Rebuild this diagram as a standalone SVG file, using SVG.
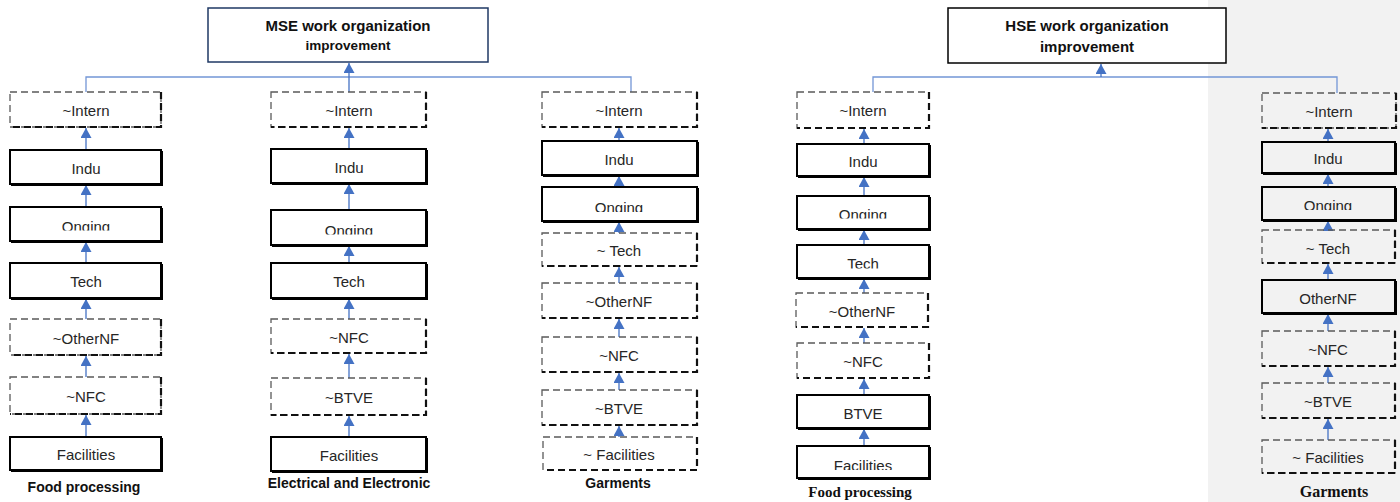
<svg xmlns="http://www.w3.org/2000/svg" width="1400" height="502" viewBox="0 0 1400 502">
<style>
.t{font-family:"Liberation Sans",Arial,sans-serif;font-size:15px;fill:#262626;text-anchor:middle}
.h{font-family:"Liberation Sans",Arial,sans-serif;font-weight:bold;font-size:15px;fill:#111;text-anchor:middle}
.lb{font-family:"Liberation Sans",Arial,sans-serif;font-weight:bold;font-size:14px;fill:#111;text-anchor:middle}
.ls{font-family:"Liberation Serif","Times New Roman",serif;font-weight:bold;font-size:16px;fill:#111;text-anchor:middle}
.s{fill:none;stroke:#000;stroke-width:2}
.sh{fill:none;stroke:#000;stroke-width:2}
.d{fill:none;stroke:#5a5a5a;stroke-width:1.3;stroke-dasharray:7 4}
.db{fill:none;stroke:#111;stroke-width:2.2;stroke-dasharray:7 4}
.a{fill:none;stroke:#4472C4;stroke-width:1.3;marker-end:url(#ah)}
.bus{fill:none;stroke:#7396d6;stroke-width:1.3}
</style>
<defs>
<marker id="ah" markerUnits="userSpaceOnUse" markerWidth="11" markerHeight="11" refX="10" refY="5.5" orient="auto" viewBox="0 0 10 11">
<path d="M0,0 L10,5.5 L0,11 z" fill="#4472C4"/>
</marker>
<clipPath id="c1"><rect x="0" y="0" width="1400" height="230.5"/></clipPath>
<clipPath id="c2"><rect x="0" y="0" width="1400" height="234.5"/></clipPath>
<clipPath id="c3"><rect x="0" y="0" width="1400" height="212"/></clipPath>
<clipPath id="c4"><rect x="0" y="0" width="1400" height="218.5"/></clipPath>
<clipPath id="c5"><rect x="0" y="0" width="1400" height="268.5"/></clipPath>
<clipPath id="c6"><rect x="0" y="0" width="1400" height="470"/></clipPath>
<clipPath id="c7"><rect x="0" y="0" width="1400" height="210"/></clipPath>
</defs>
<rect x="0" y="0" width="1400" height="502" fill="#fff"/>
<rect id="panel" x="1208" y="0" width="192" height="502" fill="#f2f2f2"/>

<g id="connectors">
<path class="bus" d="M86,92 V77 H631 V92"/>
<line class="a" x1="349" y1="92" x2="349" y2="63"/>
<line class="a" x1="86" y1="150" x2="86" y2="128"/>
<line class="a" x1="86" y1="207" x2="86" y2="185"/>
<line class="a" x1="86" y1="263" x2="86" y2="242"/>
<line class="a" x1="86" y1="319" x2="86" y2="299"/>
<line class="a" x1="86" y1="377" x2="86" y2="356"/>
<line class="a" x1="86" y1="437" x2="86" y2="415"/>
<line class="a" x1="349" y1="149" x2="349" y2="128"/>
<line class="a" x1="349" y1="210" x2="349" y2="184"/>
<line class="a" x1="349" y1="263" x2="349" y2="246"/>
<line class="a" x1="349" y1="319" x2="349" y2="299"/>
<line class="a" x1="349" y1="378" x2="349" y2="354"/>
<line class="a" x1="349" y1="437" x2="349" y2="416"/>
<line class="a" x1="619" y1="141" x2="619" y2="128"/>
<line class="a" x1="619" y1="187" x2="619" y2="176"/>
<line class="a" x1="619" y1="233" x2="619" y2="222"/>
<line class="a" x1="619" y1="283" x2="619" y2="267"/>
<line class="a" x1="619" y1="337" x2="619" y2="319"/>
<line class="a" x1="619" y1="390" x2="619" y2="373"/>
<line class="a" x1="619" y1="437" x2="619" y2="426"/>
<path class="bus" d="M873,92 V77 H1337 V93"/>
<line class="a" x1="1101" y1="77" x2="1101" y2="64"/>
<line class="a" x1="864" y1="144" x2="864" y2="129"/>
<line class="a" x1="864" y1="196" x2="864" y2="177"/>
<line class="a" x1="864" y1="245" x2="864" y2="230"/>
<line class="a" x1="864" y1="293" x2="864" y2="279"/>
<line class="a" x1="864" y1="343" x2="864" y2="328"/>
<line class="a" x1="864" y1="395" x2="864" y2="379"/>
<line class="a" x1="864" y1="446" x2="864" y2="429"/>
<line class="a" x1="1328" y1="142" x2="1328" y2="129"/>
<line class="a" x1="1328" y1="187" x2="1328" y2="174"/>
<line class="a" x1="1328" y1="230" x2="1328" y2="221"/>
<line class="a" x1="1328" y1="280" x2="1328" y2="264"/>
<line class="a" x1="1328" y1="331" x2="1328" y2="314"/>
<line class="a" x1="1328" y1="383" x2="1328" y2="367"/>
<line class="a" x1="1328" y1="440" x2="1328" y2="419"/>
</g>

<g id="mse-root">
<rect x="208" y="8" width="280" height="54" fill="#fff" stroke="#1f3864" stroke-width="1.5"/>
<text class="h" x="348" y="31">MSE work organization</text>
<text class="h" x="348" y="50" style="font-size:13.5px">improvement</text>
</g>
<g id="hse-root">
<rect x="948" y="8" width="278" height="55" fill="#fff" stroke="#000" stroke-width="1.5"/>
<text class="h" x="1087" y="31">HSE work organization</text>
<text class="h" x="1087" y="52">improvement</text>
</g>

<!-- MSE Food processing -->
<g id="m1-intern"><rect class="d" x="10" y="92" width="151" height="35"/><path class="db" d="M161,92 V127 H10"/><text class="t" x="86" y="116">~Intern</text></g>
<g id="m1-indu"><rect class="s" x="10" y="150" width="151" height="34"/><path class="sh" d="M162,151 V185 H11"/><text class="t" x="86" y="174">Indu</text></g>
<g id="m1-onging"><rect class="s" x="10" y="207" width="151" height="34"/><path class="sh" d="M162,208 V242 H11"/><text class="t" x="86" y="232" clip-path="url(#c1)">Onging</text></g>
<g id="m1-tech"><rect class="s" x="10" y="263" width="151" height="35"/><path class="sh" d="M162,264 V299 H11"/><text class="t" x="86" y="287">Tech</text></g>
<g id="m1-othernf"><rect class="d" x="10" y="319" width="151" height="36"/><path class="db" d="M161,319 V355 H10"/><text class="t" x="86" y="344">~OtherNF</text></g>
<g id="m1-nfc"><rect class="d" x="10" y="377" width="151" height="37"/><path class="db" d="M161,377 V414 H10"/><text class="t" x="86" y="402">~NFC</text></g>
<g id="m1-facilities"><rect class="s" x="10" y="437" width="151" height="33"/><path class="sh" d="M162,438 V471 H11"/><text class="t" x="86" y="460">Facilities</text></g>
<text id="m1-label" class="lb" x="84" y="492">Food processing</text>

<!-- MSE Electrical and Electronic -->
<g id="m2-intern"><rect class="d" x="271" y="92" width="155" height="35"/><path class="db" d="M426,92 V127 H271"/><text class="t" x="349" y="116">~Intern</text></g>
<g id="m2-indu"><rect class="s" x="271" y="149" width="155" height="34"/><path class="sh" d="M427,150 V184 H272"/><text class="t" x="349" y="173">Indu</text></g>
<g id="m2-onging"><rect class="s" x="271" y="210" width="155" height="35"/><path class="sh" d="M427,211 V246 H272"/><text class="t" x="349" y="236" clip-path="url(#c2)">Onging</text></g>
<g id="m2-tech"><rect class="s" x="271" y="263" width="155" height="35"/><path class="sh" d="M427,264 V299 H272"/><text class="t" x="349" y="287">Tech</text></g>
<g id="m2-nfc"><rect class="d" x="271" y="319" width="155" height="34"/><path class="db" d="M426,319 V353 H271"/><text class="t" x="349" y="343">~NFC</text></g>
<g id="m2-btve"><rect class="d" x="271" y="378" width="155" height="37"/><path class="db" d="M426,378 V415 H271"/><text class="t" x="349" y="403">~BTVE</text></g>
<g id="m2-facilities"><rect class="s" x="271" y="437" width="155" height="34"/><path class="sh" d="M427,438 V472 H272"/><text class="t" x="349" y="461">Facilities</text></g>
<text id="m2-label" class="lb" x="349" y="488">Electrical and Electronic</text>

<!-- MSE Garments -->
<g id="m3-intern"><rect class="d" x="542" y="92" width="155" height="35"/><path class="db" d="M697,92 V127 H542"/><text class="t" x="619" y="116">~Intern</text></g>
<g id="m3-indu"><rect class="s" x="542" y="141" width="155" height="34"/><path class="sh" d="M698,142 V176 H543"/><text class="t" x="619" y="165">Indu</text></g>
<g id="m3-onging"><rect class="s" x="542" y="187" width="155" height="34"/><path class="sh" d="M698,188 V222 H543"/><text class="t" x="619" y="213" clip-path="url(#c3)">Onging</text></g>
<g id="m3-tech"><rect class="d" x="542" y="233" width="155" height="33"/><path class="db" d="M697,233 V266 H542"/><text class="t" x="619" y="256">~ Tech</text></g>
<g id="m3-othernf"><rect class="d" x="542" y="283" width="155" height="35"/><path class="db" d="M697,283 V318 H542"/><text class="t" x="619" y="307">~OtherNF</text></g>
<g id="m3-nfc"><rect class="d" x="542" y="337" width="155" height="35"/><path class="db" d="M697,337 V372 H542"/><text class="t" x="619" y="361">~NFC</text></g>
<g id="m3-btve"><rect class="d" x="542" y="390" width="155" height="35"/><path class="db" d="M697,390 V425 H542"/><text class="t" x="619" y="414">~BTVE</text></g>
<g id="m3-facilities"><rect class="d" x="543" y="437" width="154" height="33"/><path class="db" d="M697,437 V470 H543"/><text class="t" x="619" y="460">~ Facilities</text></g>
<text id="m3-label" class="lb" x="618" y="488">Garments</text>

<!-- HSE Food processing -->
<g id="h1-intern"><rect class="d" x="797" y="92" width="132" height="36"/><path class="db" d="M929,92 V128 H797"/><text class="t" x="863" y="116">~Intern</text></g>
<g id="h1-indu"><rect class="s" x="797" y="144" width="132" height="32"/><path class="sh" d="M930,145 V177 H798"/><text class="t" x="863" y="167">Indu</text></g>
<g id="h1-onging"><rect class="s" x="797" y="196" width="132" height="33"/><path class="sh" d="M930,197 V230 H798"/><text class="t" x="863" y="220" clip-path="url(#c4)">Onging</text></g>
<g id="h1-tech"><rect class="s" x="797" y="245" width="132" height="33"/><path class="sh" d="M930,246 V279 H798"/><text class="t" x="863" y="269" clip-path="url(#c5)">Tech</text></g>
<g id="h1-othernf"><rect class="d" x="796" y="293" width="132" height="34"/><path class="db" d="M928,293 V327 H796"/><text class="t" x="862" y="317">~OtherNF</text></g>
<g id="h1-nfc"><rect class="d" x="797" y="343" width="132" height="35"/><path class="db" d="M929,343 V378 H797"/><text class="t" x="863" y="367">~NFC</text></g>
<g id="h1-btve"><rect class="s" x="797" y="395" width="132" height="33"/><path class="sh" d="M930,396 V429 H798"/><text class="t" x="863" y="419">BTVE</text></g>
<g id="h1-facilities"><rect class="s" x="797" y="446" width="132" height="32"/><path class="sh" d="M930,447 V479 H798"/><text class="t" x="863" y="471" clip-path="url(#c6)">Facilities</text></g>
<text id="h1-label" class="ls" x="860" y="497" style="font-size:15px">Food processing</text>

<!-- HSE Garments -->
<g id="h2-intern"><rect class="d" x="1262" y="93" width="134" height="35"/><path class="db" d="M1396,93 V128 H1262"/><text class="t" x="1329" y="117">~Intern</text></g>
<g id="h2-indu"><rect class="s" x="1262" y="142" width="133" height="31"/><path class="sh" d="M1396,143 V174 H1263"/><text class="t" x="1328" y="164">Indu</text></g>
<g id="h2-onging"><rect class="s" x="1262" y="187" width="133" height="33"/><path class="sh" d="M1396,188 V221 H1263"/><text class="t" x="1328" y="211" clip-path="url(#c7)">Onging</text></g>
<g id="h2-tech"><rect class="d" x="1262" y="230" width="133" height="33"/><path class="db" d="M1395,230 V263 H1262"/><text class="t" x="1328" y="254">~ Tech</text></g>
<g id="h2-othernf"><rect class="s" x="1262" y="280" width="133" height="33"/><path class="sh" d="M1396,281 V314 H1263"/><text class="t" x="1328" y="304">OtherNF</text></g>
<g id="h2-nfc"><rect class="d" x="1262" y="331" width="133" height="35"/><path class="db" d="M1395,331 V366 H1262"/><text class="t" x="1328" y="355">~NFC</text></g>
<g id="h2-btve"><rect class="d" x="1262" y="383" width="133" height="35"/><path class="db" d="M1395,383 V418 H1262"/><text class="t" x="1328" y="407">~BTVE</text></g>
<g id="h2-facilities"><rect class="d" x="1262" y="440" width="133" height="33"/><path class="db" d="M1395,440 V473 H1262"/><text class="t" x="1328" y="463">~ Facilities</text></g>
<text id="h2-label" class="ls" x="1334" y="497">Garments</text>
</svg>
